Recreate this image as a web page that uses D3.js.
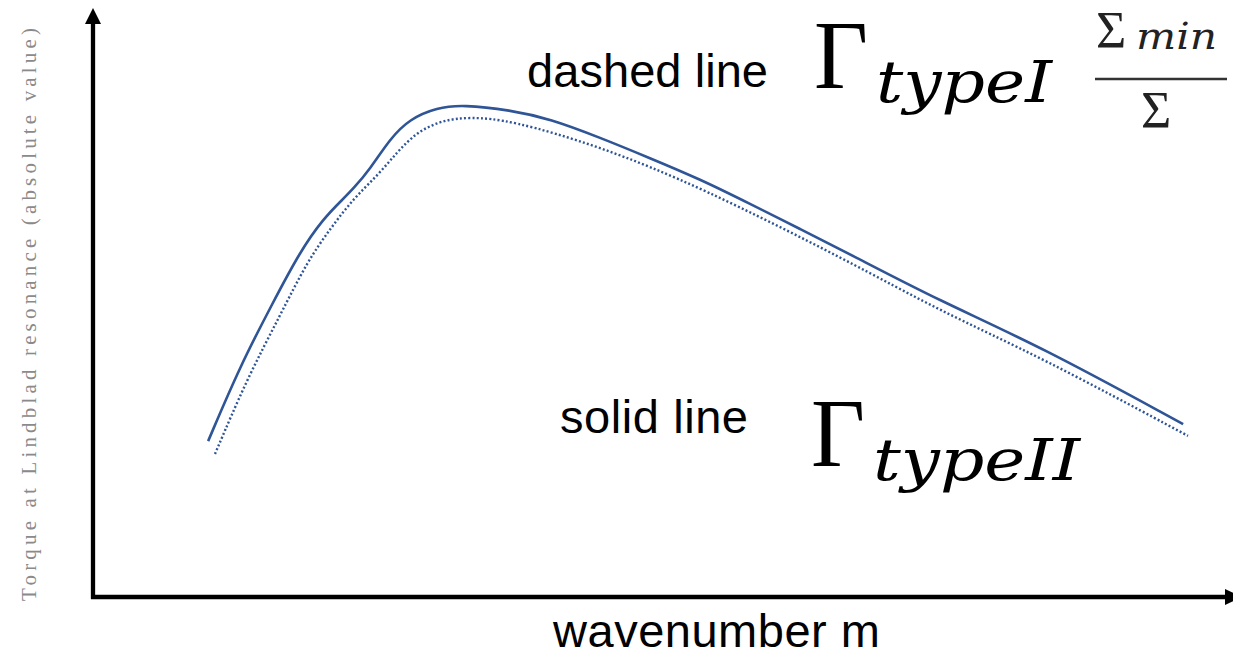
<!DOCTYPE html>
<html>
<head>
<meta charset="utf-8">
<script src="https://cdn.jsdelivr.net/npm/d3@7"></script>
<style>
  body { margin: 0; background: #fff; }
  svg { display: block; }
</style>
</head>
<body>
<div id="chart"></div>
<script>
// wavenumber m (arbitrary units) and torque (arbitrary units)
const mSolid = [4.04, 5.16, 6.32, 7.26, 8.07, 8.77, 9.12, 9.72, 10.42, 11.12, 12.07, 12.98, 14.63, 16.04, 17.79, 19.54, 21.30, 23.05, 24.81, 26.56, 29.72, 33.23, 38.25]
const torqueSolid = [2.66, 3.94, 5.03, 5.89, 6.45, 6.79, 6.96, 7.30, 7.82, 8.16, 8.35, 8.40, 8.31, 8.16, 7.84, 7.49, 7.13, 6.71, 6.28, 5.85, 5.05, 4.28, 2.95]

const mDashed = [4.28, 5.40, 6.56, 7.51, 8.32, 9.12, 9.96, 10.67, 11.37, 12.28, 13.23, 14.63, 17.79, 21.30, 26.56, 29.72, 33.23, 38.42]
const torqueDashed = [2.44, 3.72, 4.80, 5.72, 6.28, 6.79, 7.18, 7.59, 7.94, 8.14, 8.19, 8.14, 7.69, 7.00, 5.72, 4.88, 4.10, 2.75]

const width = 1233, height = 659

const svg = d3.select("#chart")
  .append("svg")
  .attr("width", width)
  .attr("height", height)

const x = d3.scaleLinear().domain([0, 40]).range([93, 1233])
const y = d3.scaleLinear().domain([0, 10]).range([597, 11])

const lineColor = "#2f5597"

// basis curve smooths out the reading noise
const line = d3.line()
  .x(d => x(d[0]))
  .y(d => y(d[1]))
  .curve(d3.curveBasis)

// dashed curve (type I scaled)
svg.append("path")
  .datum(d3.zip(mDashed, torqueDashed))
  .attr("d", line)
  .attr("fill", "none")
  .attr("stroke", lineColor)
  .attr("stroke-width", 2.4)
  .attr("stroke-dasharray", "2,2.2")

// solid curve (type II)
svg.append("path")
  .datum(d3.zip(mSolid, torqueSolid))
  .attr("d", line)
  .attr("fill", "none")
  .attr("stroke", lineColor)
  .attr("stroke-width", 2.6)

// axes with arrow heads
const x0 = x(0), y0 = y(0)
svg.append("line")
  .attr("x1", x0).attr("y1", y0 + 2)
  .attr("x2", x0).attr("y2", 20)
  .attr("stroke", "#000").attr("stroke-width", 4.3)
svg.append("path")
  .attr("d", `M${x0},8 L${x0 - 8},24 L${x0 + 8},24 Z`)
  .attr("fill", "#000")

svg.append("line")
  .attr("x1", x0 - 2).attr("y1", y0)
  .attr("x2", 1228).attr("y2", y0)
  .attr("stroke", "#000").attr("stroke-width", 4.3)
svg.append("path")
  .attr("d", `M1242,${y0} L1225,${y0 - 8} L1225,${y0 + 8} Z`)
  .attr("fill", "#000")

// axis titles
svg.append("text")
  .attr("transform", `translate(36, 601) rotate(-90)`)
  .attr("font-family", "Liberation Serif, DejaVu Serif, serif")
  .attr("font-size", 21)
  .attr("fill", "#8a8a8a")
  .attr("textLength", 573)
  .attr("lengthAdjust", "spacing")
  .text("Torque at Lindblad resonance (absolute value)")

svg.append("text")
  .attr("x", 553).attr("y", 647)
  .attr("font-family", "Liberation Sans, Arial, sans-serif")
  .attr("font-size", 47)
  .attr("textLength", 327)
  .text("wavenumber m")

// labels
svg.append("text")
  .attr("x", 527).attr("y", 87)
  .attr("font-family", "Liberation Sans, Arial, sans-serif")
  .attr("font-size", 47)
  .attr("textLength", 241)
  .text("dashed line")

svg.append("text")
  .attr("x", 560).attr("y", 433)
  .attr("font-family", "Liberation Sans, Arial, sans-serif")
  .attr("font-size", 47)
  .attr("textLength", 188)
  .text("solid line")

// formulas
const serif = "Liberation Serif, DejaVu Serif, serif"
function gamma(gx, gy, sub, subLen) {
  svg.append("text")
    .attr("x", gx).attr("y", gy)
    .attr("font-family", serif)
    .attr("font-size", 98)
    .attr("textLength", 54)
    .attr("lengthAdjust", "spacingAndGlyphs")
    .text("Γ")
  svg.append("text")
    .attr("x", gx + 62).attr("y", gy + 14)
    .attr("font-family", "DejaVu Serif, serif")
    .attr("font-style", "italic")
    .attr("font-size", 58)
    .attr("textLength", subLen)
    .attr("lengthAdjust", "spacingAndGlyphs")
    .text(sub)
}
gamma(814, 88, "typeI", 176)
gamma(811, 466, "typeII", 207)

// fraction Σmin / Σ
svg.append("text")
  .attr("x", 1096).attr("y", 48)
  .attr("font-family", serif)
  .attr("font-size", 52)
  .attr("fill", "#222")
  .text("Σ")
svg.append("text")
  .attr("x", 1136).attr("y", 49)
  .attr("font-family", "DejaVu Serif, serif")
  .attr("font-style", "italic")
  .attr("font-size", 38)
  .attr("fill", "#222")
  .attr("textLength", 81)
  .attr("lengthAdjust", "spacingAndGlyphs")
  .text("min")
svg.append("line")
  .attr("x1", 1095).attr("x2", 1227)
  .attr("y1", 79).attr("y2", 79)
  .attr("stroke", "#333").attr("stroke-width", 2.5)
svg.append("text")
  .attr("x", 1141).attr("y", 128)
  .attr("font-family", serif)
  .attr("font-size", 52)
  .attr("fill", "#222")
  .text("Σ")
</script>
</body>
</html>
